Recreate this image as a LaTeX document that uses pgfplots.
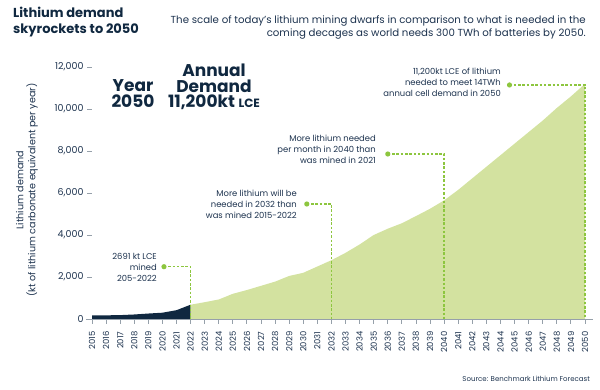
\documentclass[border=0pt]{standalone}
\usepackage{pgfplots}
\pgfplotsset{compat=1.18}
\usepackage{fontspec}
\setmainfont{Poppins}
\definecolor{navy}{RGB}{16,40,64}
\definecolor{txt}{RGB}{28,50,78}
\definecolor{lgreen}{RGB}{211,226,160}
\definecolor{lime}{RGB}{141,198,63}
\definecolor{axgray}{RGB}{150,160,170}
\begin{document}
\begin{tikzpicture}[x=1pt,y=1pt]
\path[use as bounding box] (0,0) rectangle (600,390);
\begin{axis}[
  at={(92pt,71pt)}, anchor=south west,
  scale only axis, width=493pt, height=252pt,
  xmin=2015, xmax=2050, ymin=0, ymax=12000,
  axis x line*=bottom, axis y line*=left,
  y axis line style={draw=none},
  x axis line style={-, axgray, line width=0.9pt, shorten <=-6pt, shorten >=-8pt},
  tick style={axgray, line width=0.9pt},
  tick align=outside, major tick length=5pt,
  xtick={2015,2016,...,2050}, ytick={0,2000,...,12000},
  scaled y ticks=false,
  /pgf/number format/assume math mode=true,
  xticklabel shift={4pt},
  x tick label style={rotate=90, anchor=east, font=\fontsize{8.4}{9}\selectfont, text=txt, /pgf/number format/1000 sep={}},
  y tick label style={font=\fontsize{9.5}{11}\selectfont, text=txt, /pgf/number format/1000 sep={,}},
  clip=false,
]
\addplot[fill=navy, draw=none] coordinates {
(2015,170) (2016,175) (2017,185) (2018,215) (2019,260) (2020,300) (2021,420) (2022,680)
} \closedcycle;
\addplot[fill=lgreen, draw=none] coordinates {
(2022,680) (2023,800) (2024,930) (2025,1200) (2026,1380) (2027,1580) (2028,1780) (2029,2050)
(2030,2200) (2031,2500) (2032,2800) (2033,3150) (2034,3550) (2035,4000) (2036,4300)
(2037,4560) (2038,4900) (2039,5250) (2040,5650) (2041,6150) (2042,6700) (2043,7250)
(2044,7800) (2045,8350) (2046,8900) (2047,9450) (2048,10050) (2049,10600) (2050,11200)
} \closedcycle;
\draw[lime, line width=1.4pt, dash pattern=on 2.5pt off 1.8pt] (axis cs:2020.11,2490) -- (axis cs:2022,2490) -- (axis cs:2022,0);
\draw[lime, line width=1.4pt, dash pattern=on 2.5pt off 1.8pt] (axis cs:2030.25,5476) -- (axis cs:2032,5476) -- (axis cs:2032,0);
\draw[lime, line width=1.4pt, dash pattern=on 2.5pt off 1.8pt] (axis cs:2036.0,7857) -- (axis cs:2040,7857) -- (axis cs:2040,0);
\draw[lime, line width=1.4pt, dash pattern=on 2.5pt off 1.8pt] (axis cs:2044.64,11143) -- (axis cs:2050,11143) -- (axis cs:2050,0);
\fill[lime] (axis cs:2020.11,2490) circle (2.6pt);
\fill[lime] (axis cs:2030.25,5476) circle (2.6pt);
\fill[lime] (axis cs:2036.0,7857) circle (2.6pt);
\fill[lime] (axis cs:2044.64,11143) circle (2.6pt);
\end{axis}
% titles
\node[anchor=north west, align=left, text=navy, font=\fontsize{13}{15.5}\selectfont\bfseries, inner sep=0pt] at (13,383) {Lithium demand\\skyrockets to 2050};
\node[anchor=north east, align=right, text=txt, font=\fontsize{10.2}{12.5}\selectfont, inner sep=0pt] at (586,374) {The scale of today's lithium mining dwarfs in comparison to what is needed in the\\coming decages as world needs 300 TWh of batteries by 2050.};
% big text
\node[align=center, text=navy, font=\fontsize{17}{15.5}\selectfont\bfseries, inner sep=0pt] at (133,296.5) {Year\\2050};
\node[align=center, text=navy, font=\fontsize{17}{15.5}\selectfont\bfseries, inner sep=0pt] at (214,303) {Annual\\Demand\\11,200kt {\fontsize{12}{14}\selectfont LCE}};
% annotations
\node[anchor=east, align=right, text=txt, font=\fontsize{8.4}{11}\selectfont, inner sep=0pt] at (157,123) {2691 kt LCE\\mined\\205-2022};
\node[anchor=east, align=right, text=txt, font=\fontsize{8.4}{11}\selectfont, inner sep=0pt] at (297,186) {More lithium will be\\needed in 2032 than\\was mined 2015-2022};
\node[anchor=east, align=right, text=txt, font=\fontsize{8.4}{11}\selectfont, inner sep=0pt] at (376,241) {More lithium needed\\per month in 2040 than\\was mined in 2021};
\node[anchor=east, align=right, text=txt, font=\fontsize{8.4}{11}\selectfont, inner sep=0pt] at (501,307.5) {11,200kt LCE of lithium\\needed to meet 14TWh\\annual cell demand in 2050};
% y label
\node[rotate=90, align=center, text=txt, font=\fontsize{9.6}{12}\selectfont, inner sep=0pt] at (27,200) {Lithium demand\\(kt of lithium carbonate equivalent per year)};
% source
\node[anchor=east, text=txt, font=\fontsize{7}{8}\selectfont, inner sep=0pt] at (590,11) {Source: Benchmark Lithium Forecast};
\end{tikzpicture}
\end{document}
